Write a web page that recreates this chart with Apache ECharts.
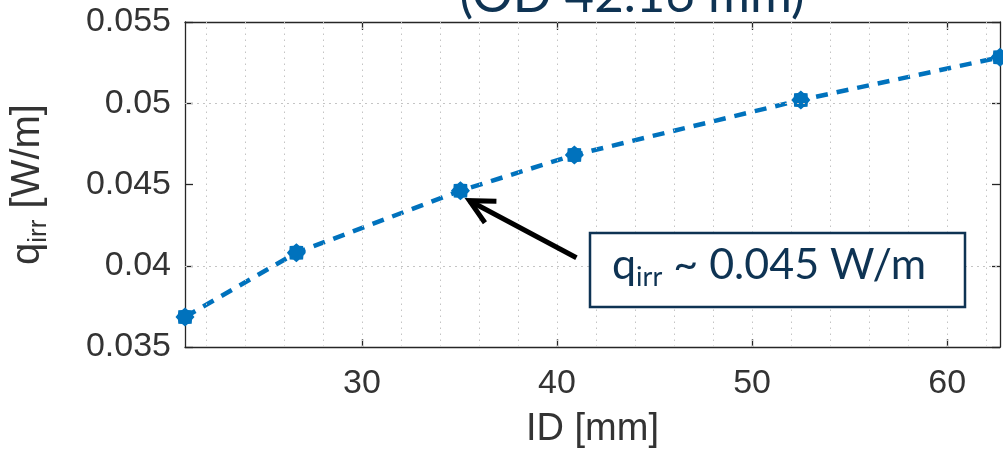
<!DOCTYPE html>
<html>
<head>
<meta charset="utf-8">
<script src="https://cdn.jsdelivr.net/npm/echarts@6/dist/echarts.min.js"></script>
<style>
  html, body { margin: 0; padding: 0; background: #fff; }
  #chart { width: 1003px; height: 458px; }
</style>
</head>
<body>
<div id="chart"></div>
<script>
// inner diameter [mm] vs irradiated heat per metre [W/m]
const idMm = [20.93, 26.64, 35.05, 40.89, 52.50, 62.71];
const qIrr = [0.03685, 0.0408, 0.04462, 0.04682, 0.0502, 0.05283];

const xTicks = [30, 40, 50, 60];
const xMinorGrid = [22, 24, 26, 28, 30, 32, 34, 36, 38, 40, 42, 44, 46, 48, 50, 52, 54, 56, 58, 60, 62];
const yMinorGrid = [0.036, 0.037, 0.038, 0.039, 0.04, 0.041, 0.042, 0.043, 0.044, 0.045,
                    0.046, 0.047, 0.048, 0.049, 0.05, 0.051, 0.052, 0.053, 0.054];

const titleText = '(OD 42.16 mm)';
const noteValue = ' ~ 0.045 W/m';

const X_MIN = 20.93, X_MAX = 62.71;
const Y_MIN = 0.035, Y_MAX = 0.055;

const axisColor = '#262626';
const textColor = '#333333';
const navy = '#0e3353';
const blue = '#0072BD';

// 8-spike asterisk-ish marker
function starPath(n, rIn) {
    const pts = [];
    for (let i = 0; i < n * 2; i++) {
        const r = i % 2 === 0 ? 1 : rIn;
        const a = (Math.PI * i) / n;
        pts.push((r * Math.cos(a)).toFixed(3) + ' ' + (r * Math.sin(a)).toFixed(3));
    }
    return 'path://M' + pts.join(' L') + ' Z';
}

const chart = echarts.init(document.getElementById('chart'), null, { renderer: 'canvas' });

const labelFont = { fontFamily: 'Liberation Sans', color: textColor };

const option = {
    animation: false,
    backgroundColor: '#fff',
    grid: { left: 184, right: 3, top: 22, bottom: 111 },
    xAxis: [
        {
            type: 'value',
            min: X_MIN,
            max: X_MAX,
            name: 'ID [mm]',
            nameLocation: 'middle',
            nameGap: 64,
            nameTextStyle: { ...labelFont, fontSize: 38 },
            axisLine: { show: true, onZero: false, lineStyle: { color: axisColor, width: 1.3 } },
            axisTick: { show: true, inside: true, length: 8, customValues: xTicks, lineStyle: { color: axisColor, width: 1.3 } },
            axisLabel: { show: true, customValues: xTicks, margin: 20, fontSize: 34, ...labelFont },
            splitLine: { show: false },
        },
        {
            type: 'value',
            position: 'top',
            min: X_MIN,
            max: X_MAX,
            axisLine: { show: true, onZero: false, lineStyle: { color: axisColor, width: 1.3 } },
            axisTick: { show: true, inside: true, length: 8, customValues: xTicks, lineStyle: { color: axisColor, width: 1.3 } },
            axisLabel: { show: false },
            splitLine: { show: false },
        },
    ],
    yAxis: [
        {
            type: 'value',
            min: Y_MIN,
            max: Y_MAX,
            interval: 0.005,
            name: '{q|q}{sub|irr}{q| [W/m]}',
            nameLocation: 'middle',
            nameRotate: 90,
            nameGap: 133,
            nameTextStyle: {
                rich: {
                    q: { fontSize: 40, fontFamily: 'Liberation Sans', color: textColor, lineHeight: 48 },
                    sub: { fontSize: 26, fontFamily: 'Liberation Sans', color: textColor, lineHeight: 28, verticalAlign: 'bottom' },
                },
            },
            axisLine: { show: true, onZero: false, lineStyle: { color: axisColor, width: 1.3 } },
            axisTick: { show: true, inside: true, length: 8, lineStyle: { color: axisColor, width: 1.3 } },
            axisLabel: { margin: 14, fontSize: 34, ...labelFont },
            splitLine: { show: false },
        },
        {
            type: 'value',
            position: 'right',
            min: Y_MIN,
            max: Y_MAX,
            interval: 0.005,
            axisLine: { show: true, onZero: false, lineStyle: { color: axisColor, width: 1.3 } },
            axisTick: { show: true, inside: true, length: 8, lineStyle: { color: axisColor, width: 1.3 } },
            axisLabel: { show: false },
            splitLine: { show: false },
        },
    ],
    series: [
        {
            // minor grid, dotted
            type: 'line',
            data: [],
            z: 1,
            silent: true,
            markLine: {
                silent: true,
                symbol: 'none',
                animation: false,
                label: { show: false },
                lineStyle: { type: [1.5, 4.5], color: '#c4c4c4', width: 1 },
                data: [
                    ...xMinorGrid.map((v) => ({ xAxis: v })),
                    ...yMinorGrid.map((v) => ({ yAxis: v })),
                ],
            },
        },
        {
            name: 'q_irr',
            type: 'line',
            data: idMm.map((x, i) => [x, qIrr[i]]),
            z: 3,
            clip: false,
            lineStyle: { color: blue, width: 4.5, type: [12, 9] },
            itemStyle: { color: blue },
            symbol: starPath(8, 0.8),
            symbolSize: 19,
        },
    ],
};

chart.setOption(option);

// annotation: arrow to the OD 42.16 point + note box, and the clipped title
const p = chart.convertToPixel({ xAxisIndex: 0, yAxisIndex: 0 }, [idMm[2], qIrr[2]]);
const tip = [p[0] + 9, p[1] + 10];
const tail = [tip[0] + 107, tip[1] + 57];
const ang = Math.atan2(tail[1] - tip[1], tail[0] - tip[0]);
const wing = (da) => [tip[0] + 27 * Math.cos(ang + da), tip[1] + 27 * Math.sin(ang + da)];

chart.setOption({
    graphic: [
        {
            type: 'text',
            x: 632,
            y: -4,
            style: {
                text: titleText,
                align: 'center',
                verticalAlign: 'middle',
                fontFamily: 'Lato',
                fontSize: 51,
                fill: navy,
            },
        },
        {
            type: 'line',
            shape: { x1: tail[0], y1: tail[1], x2: tip[0], y2: tip[1] },
            style: { stroke: '#000', lineWidth: 5 },
            z: 10,
        },
        {
            type: 'polyline',
            shape: { points: [wing(-0.47), tip, wing(0.47)] },
            style: { stroke: '#000', lineWidth: 5, fill: null, lineJoin: 'miter' },
            z: 10,
        },
        {
            type: 'rect',
            shape: { x: 590, y: 233, width: 375, height: 74 },
            style: { fill: '#fff', stroke: navy, lineWidth: 2.5 },
            z: 10,
        },
        {
            type: 'text',
            x: 612,
            y: 265,
            z: 11,
            style: {
                text: '{q|q}{sub|irr}{q|' + noteValue + '}',
                verticalAlign: 'middle',
                rich: {
                    q: { fontSize: 43, fontFamily: 'Lato', fill: navy, lineHeight: 52 },
                    sub: { fontSize: 27, fontFamily: 'Lato', fill: navy, lineHeight: 29, verticalAlign: 'bottom' },
                },
            },
        },
    ],
});
</script>
</body>
</html>
